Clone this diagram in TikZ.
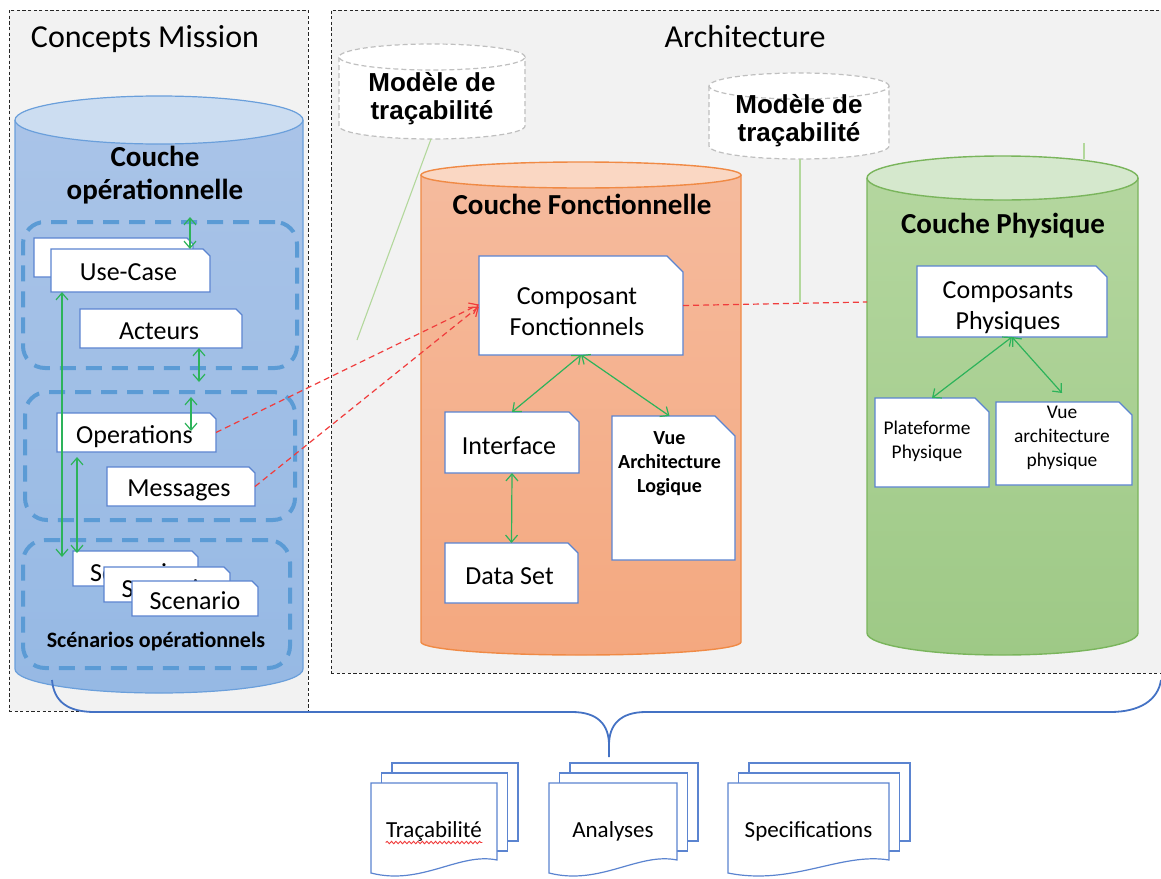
\documentclass[tikz,border=0pt]{standalone}
\usepackage{fontspec}
\setmainfont{Carlito}
\newfontfamily\arialfont{Liberation Sans}
\usetikzlibrary{arrows.meta,fit,calc,decorations.pathmorphing}

\definecolor{boxgray}{HTML}{F2F2F2}
\definecolor{bluetopc}{HTML}{AAC4E8}
\definecolor{bluebotc}{HTML}{96B9E4}
\definecolor{bluelid}{HTML}{CCDDF1}
\definecolor{blueline}{HTML}{6A9FDB}
\definecolor{dashblue}{HTML}{5B9BD5}
\definecolor{orgtopc}{HTML}{F5BB9E}
\definecolor{orgbotc}{HTML}{F4A87F}
\definecolor{orglid}{HTML}{FAD7C3}
\definecolor{orgline}{HTML}{F08A45}
\definecolor{grntopc}{HTML}{B5D7A0}
\definecolor{grnbotc}{HTML}{9EC986}
\definecolor{grnlid}{HTML}{D5E8CD}
\definecolor{grnline}{HTML}{7AB55C}
\definecolor{docline}{HTML}{5B84D0}
\definecolor{arrgreen}{HTML}{2DB35A}
\definecolor{tracegreen}{HTML}{B3D89C}
\definecolor{redline}{HTML}{F03C3C}
\definecolor{bracecol}{HTML}{4472C4}
\definecolor{tracegray}{HTML}{BFBFBF}

% cylinder: x1, x2, ytop, ybot, ry, body options, line options, lid colour
\newcommand{\cylinderdraw}[8]{%
  \pgfmathsetmacro{\crx}{(#2-#1)*0.25}%
  \pgfmathsetmacro{\cry}{#5*0.5}%
  \path[#6] (#1,#3) -- (#1,#4) arc[start angle=180,end angle=360,x radius=\crx pt,y radius=\cry pt]
        -- (#2,#3) arc[start angle=0,end angle=180,x radius=\crx pt,y radius=\cry pt] -- cycle;
  \draw[#7] (#1,#3) -- (#1,#4) arc[start angle=180,end angle=360,x radius=\crx pt,y radius=\cry pt] -- (#2,#3);
  \filldraw[#7,fill=#8] ({(#1+#2)/2},#3) ellipse[x radius=\crx pt,y radius=\cry pt];
}

% document box: [text opts]{name}{x1}{y1}{x2}{y2}{fold}{text offset}{text}
\newcommand{\docbox}[9][]{%
  \node[inner sep=0pt, outer sep=0pt, fit={(#3,#4) (#5,#6)}] (#2) {};
  \filldraw[docshape] (#2.north west) -- ([xshift=-#7*0.5pt]#2.north east)
      -- ([yshift=-#7*0.5pt]#2.north east) -- (#2.south east) -- (#2.south west) -- cycle;
  \node[doctext, #1] (#2-t) at ([shift={(#8)}]#2.center) {#9};
}

% stacked documents: name, x1, x2, text
\newcommand{\multidoc}[4]{%
  \filldraw[docshape] ({#2+21},763) rectangle ({#3+21},841);
  \filldraw[docshape] ({#2+10.5},773) rectangle ({#3+10.5},851);
  \filldraw[docshape] (#2,783) -- (#3,783) -- (#3,860)
      .. controls ({#2+0.7*(#3-#2)},852) and ({#2+0.4*(#3-#2)},886) .. (#2,873) -- cycle;
  \node[inner sep=0pt, fit={(#2,783) (#3,873)}] (#1) {};
  \node[bottext] (#1-t) at ({(#2+#3)/2},831) {#4};
}

\begin{document}
\begin{tikzpicture}[x=0.5pt,y=-0.5pt,
  areabox/.style={draw=black!85, fill=boxgray, line width=0.5pt, dash pattern=on 1.6pt off 1.2pt, inner sep=0pt},
  title/.style={font=\fontsize{16}{19}\selectfont, inner sep=0pt},
  layertitle/.style={font=\bfseries\fontsize{14.5}{16.5}\selectfont, align=center, inner sep=0pt},
  opgroup/.style={draw=dashblue, line width=2pt, dash pattern=on 8pt off 5pt, rounded corners=11pt, inner sep=0pt},
  docshape/.style={draw=docline, fill=white, line width=0.6pt},
  doctext/.style={font=\fontsize{13}{15.3}\selectfont, align=center, inner sep=0pt},
  smalltext/.style={font=\fontsize{9.7}{12}\selectfont},
  smallbold/.style={font=\bfseries\fontsize{10}{12}\selectfont},
  bottext/.style={font=\fontsize{11.5}{14}\selectfont, inner sep=0pt},
  tracetext/.style={font=\arialfont\bfseries\fontsize{13}{14}\selectfont, align=center, inner sep=0pt},
  traceline/.style={draw=tracegray, line width=0.6pt, dash pattern=on 2.5pt off 1.5pt},
  garrow/.style={draw=arrgreen, line width=0.6pt, {Straight Barb[length=3.5pt,width=6pt]}-{Straight Barb[length=3.5pt,width=6pt]}},
  rarrow/.style={draw=redline, line width=0.6pt, dash pattern=on 3pt off 2pt, -{Straight Barb[length=4pt,width=6pt]}},
  rdash/.style={draw=redline, line width=0.6pt, dash pattern=on 3pt off 2pt},
  tline/.style={draw=tracegreen, line width=0.55pt},
  bracestyle/.style={draw=bracecol, line width=0.9pt},
]
\useasboundingbox (0,0) rectangle (1161,878);

% ---------- areas ----------
\node[areabox, fit={(9,10) (308,711)}] (cm) {};
\node[areabox, fit={(331,10) (1164,673)}] (arch) {};
\node[title] (cmtitle) at (145,39) {Concepts Mission};
\node[title] (archtitle) at (745,37) {Architecture};

% ---------- traceability models ----------
\cylinderdraw{339}{525}{57}{126}{13}{fill=white}{traceline}{white}
\node[tracetext] (trace1) at (432,99) {Modèle de\\traçabilité};
\cylinderdraw{709}{889}{86}{146}{13}{fill=white}{traceline}{white}
\node[tracetext] (trace2) at (799,121) {Modèle de\\traçabilité};
\coordinate (tr1b) at (431,139);
\coordinate (tr1e) at (357,340);
\coordinate (tr2b) at (800,159);
\coordinate (tr2e) at (800,302);
\coordinate (tr3b) at (1084,143);
\coordinate (tr3e) at (1084,159);
\draw[tline] (tr1b) -- (tr1e);
\draw[tline] (tr2b) -- (tr2e);
\draw[tline] (tr3b) -- (tr3e);

% ---------- cylinders ----------
\cylinderdraw{15}{303}{120}{669}{24}{top color=bluetopc,bottom color=bluebotc}{draw=blueline,line width=0.6pt}{bluelid}
\cylinderdraw{421}{741}{175}{642}{13}{top color=orgtopc,bottom color=orgbotc}{draw=orgline,line width=0.7pt}{orglid}
\cylinderdraw{867}{1138}{178}{633}{22}{top color=grntopc,bottom color=grnbotc}{draw=grnline,line width=0.7pt}{grnlid}

\node[layertitle] (optitle) at (155,175) {Couche\\opérationnelle};
\node[layertitle] (fntitle) at (582,204) {Couche Fonctionnelle};
\node[layertitle] (phtitle) at (1003,226) {Couche Physique};

% ---------- operational groups ----------
\node[opgroup, fit={(23,222) (297,368)}] (grp1) {};
\node[opgroup, fit={(25,392) (295,520)}] (grp2) {};
\node[opgroup, fit={(23,540) (290,668)}] (grp3) {};
\node[font=\bfseries\fontsize{11}{13}\selectfont, inner sep=0pt] (scop) at (156,641) {Scénarios opérationnels};

% ---------- documents (operational) ----------
\docbox{ucback}{34}{238}{193}{277}{6}{0,0}{}
\docbox{uc}{51}{249}{210}{292}{7}{-2,2}{Use-Case}
\docbox{act}{80}{309}{242}{348}{6}{-2,3}{Acteurs}
\docbox{ops}{57}{413}{216}{452}{6}{-2,4}{Operations}
\docbox{msg}{107}{467}{255}{506}{6}{-2,4}{Messages}
\docbox{sca}{73}{551}{198}{586}{6}{0,4}{Scenario}
\docbox{scb}{104}{567}{230}{602}{6}{0,4}{Scenario}
\docbox{scc}{132}{581}{258}{616}{6}{0,2}{Scenario}

% ---------- documents (functional) ----------
\docbox{comp}{479}{256}{683}{355}{16}{-4,6}{Composant\\Fonctionnels}
\docbox{intf}{445}{412}{579}{473}{10}{-3,3}{Interface}
\docbox[smallbold]{vuelog}{612}{416}{735}{560}{20}{-4,-24}{Vue\\Architecture\\Logique}
\docbox{dset}{445}{543}{578}{603}{10}{-2,3}{Data Set}

% ---------- documents (physical) ----------
\docbox{cphys}{917}{266}{1107}{337}{11}{-4,6}{Composants\\Physiques}
\docbox[smalltext]{plat}{875}{398}{989}{487}{14}{-5,-1}{Plateforme\\Physique}
\docbox[smalltext]{vphys}{996}{402}{1132}{485}{13}{-2,-6}{Vue\\architecture\\physique}

% ---------- green links ----------
\coordinate (a1) at (190,217);
\draw[garrow] (a1) -- (a1 |- uc.north);
\coordinate (a2) at (199,382);
\draw[garrow] (a2 |- act.south) -- (a2);
\coordinate (a3t) at (191,397);
\coordinate (a3b) at (191,431);
\draw[garrow] (a3t) -- (a3b);
\coordinate (a4) at (62,557);
\draw[garrow] (a4 |- uc.south) -- (a4);
\coordinate (a5) at (77,553);
\coordinate (a5t) at (77,457);
\draw[garrow] (a5t) -- (a5);

\draw[garrow] (comp.south) -- (intf.north);
\draw[garrow] (comp.south) -- ([xshift=-2pt]vuelog.north);
\draw[garrow] (intf.south) -- (dset.north);

\coordinate (vpend) at (1062,393);
\draw[garrow] (cphys.south) -- (plat.north);
\draw[garrow] (cphys.south) -- (vpend);

% ---------- red traceability links ----------
\coordinate (physL) at (867,302);
\draw[rarrow] (ops.east) -- ([yshift=0.5pt]comp.west);
\draw[rarrow] (msg.east) -- ([yshift=-0.5pt]comp.west);
\draw[rdash] (comp.east) -- (physL);

% ---------- brace ----------
\coordinate (brL) at (52,680);
\coordinate (brM) at (609,745);
\coordinate (brT) at (609,757);
\coordinate (brR) at (1161,680);
\draw[bracestyle] (brL) .. controls (54,702) and (68,712) .. (95,712) -- (572,712)
   .. controls (598,712) and (609,725) .. (brM) -- (brT);
\draw[bracestyle] (brM) .. controls (609,725) and (620,712) .. (646,712) -- (1110,712)
   .. controls (1140,712) and (1158,700) .. (brR);

% ---------- output documents ----------
\multidoc{trac}{371}{497}{Traçabilité}
\multidoc{anal}{549}{677}{Analyses}
\multidoc{spec}{728}{889}{Specifications}
\draw[redline, line width=0.45pt, decorate, decoration={snake,amplitude=0.6pt,segment length=2.2pt}]
   ([yshift=-0.6pt]trac-t.south west) -- ([yshift=-0.6pt]trac-t.south east);

\end{tikzpicture}
\end{document}
